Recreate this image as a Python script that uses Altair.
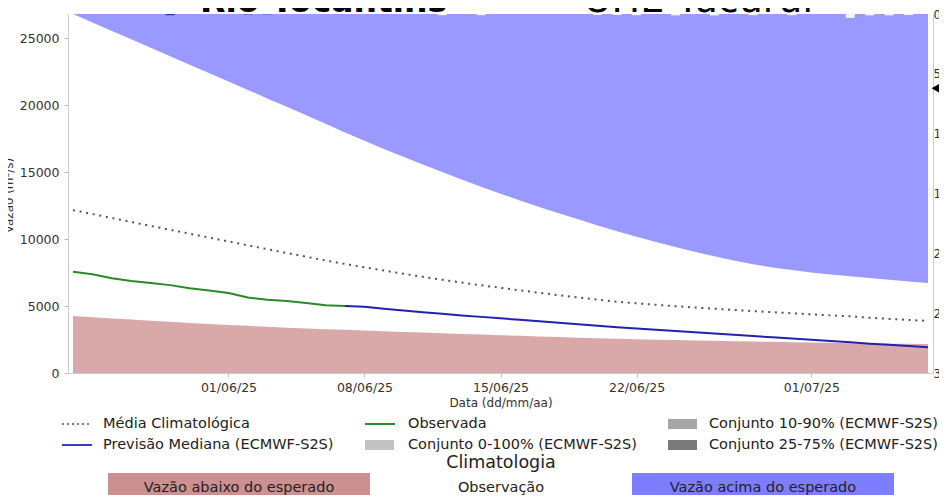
import altair as alt
import pandas as pd

FONT = "DejaVu Sans"

# ---------------- data ----------------
START = "2025-05-24"
N_DAYS = 45
Y_MAX = 26800

clim_upper = [26800, 26170, 25540, 24910, 24280, 23650, 23020, 22390, 21760, 21130,
              20500, 19870, 19240, 18600, 17960, 17340, 16730, 16140, 15560, 15000,
              14440, 13900, 13380, 12880, 12400, 11930, 11470, 11020, 10580, 10170,
              9780, 9410, 9050, 8710, 8400, 8120, 7880, 7680, 7510, 7360,
              7220, 7090, 6960, 6840, 6720]

clim_lower = [4250, 4160, 4070, 3985, 3900, 3820, 3740, 3665, 3590, 3520,
              3450, 3385, 3320, 3270, 3220, 3170, 3120, 3070, 3020, 2970,
              2920, 2870, 2820, 2775, 2730, 2685, 2640, 2595, 2550, 2520,
              2490, 2460, 2430, 2400, 2375, 2350, 2325, 2300, 2275, 2250,
              2230, 2210, 2190, 2175, 2160]

clim_mean = [12160, 11865, 11570, 11275, 10980, 10690, 10400, 10110, 9820, 9530,
             9245, 8960, 8680, 8400, 8140, 7890, 7650, 7410, 7180, 6960,
             6750, 6550, 6360, 6170, 5990, 5810, 5640, 5480, 5320, 5200,
             5090, 4990, 4890, 4800, 4710, 4620, 4540, 4460, 4380, 4300,
             4230, 4120, 4040, 3960, 3890]

observed = [7560, 7370, 7070, 6870, 6720, 6560, 6320, 6150, 5970, 5640,
            5460, 5370, 5230, 5060, 5000]            # days 0..14

forecast_start = 14
forecast = [5000, 4940, 4800, 4670, 4540, 4420, 4300, 4190, 4080, 3970,
            3860, 3750, 3640, 3530, 3420, 3320, 3230, 3140, 3040, 2950,
            2850, 2760, 2660, 2570, 2480, 2380, 2290, 2190, 2100, 2010, 1920]  # days 14..44

precip_obs_days = [5, 9, 10]
precip_obs_vals = [1.0, 0.8, 0.8]
precip_obs_colors = ["#2a2ab8", "#7a7ac8", "#7a7ac8"]

precip_fc_days = [19, 21, 27, 28, 29, 31, 33, 35, 37, 40, 41, 42, 43]
precip_fc_vals = [1.0, 1.0, 0.8, 0.8, 1.0, 1.2, 1.2, 1.0, 1.0, 3.3, 1.2, 1.2, 0.9]

marker_precip = [62]

y_ticks = [0, 5000, 10000, 15000, 20000, 25000]
p_ticks = [0, 50, 100, 150, 200, 250, 300]
x_tick_dates = [(2025, 6, 1), (2025, 6, 8), (2025, 6, 15), (2025, 6, 22), (2025, 7, 1)]

legend_labels = ["Média Climatológica", "Observada", "Conjunto 10-90% (ECMWF-S2S)",
                 "Previsão Mediana (ECMWF-S2S)", "Conjunto 0-100% (ECMWF-S2S)",
                 "Conjunto 25-75% (ECMWF-S2S)"]
clim_labels = ["Vazão abaixo do esperado", "Observação", "Vazão acima do esperado"]
title_bold = "Rio Tocantins"
title_rest = "– UHE Tucuruí"

# ---------------- tables ----------------
dates = pd.date_range(START, periods=N_DAYS, freq="D")
dstr = [d.strftime("%Y-%m-%dT00:00:00") for d in dates]

clim_df = pd.DataFrame({"date": dstr, "upper": clim_upper, "lower": clim_lower, "mean": clim_mean})
obs_df = pd.DataFrame({"date": dstr[:len(observed)], "v": observed})
fc_df = pd.DataFrame({"date": dstr[forecast_start:forecast_start + len(forecast)], "v": forecast})
pobs_df = pd.DataFrame({"date": [dstr[d] for d in precip_obs_days], "p": precip_obs_vals, "c": precip_obs_colors})
pfc_df = pd.DataFrame({"date": [dstr[d] for d in precip_fc_days], "p": precip_fc_vals})
marker_df = pd.DataFrame({"p": marker_precip})

W, H = 865, 359

xscale = alt.Scale(domain=[alt.DateTime(year=2025, month=5, date=24),
                           alt.DateTime(year=2025, month=7, date=7)])
xaxis = alt.Axis(values=[alt.DateTime(year=y, month=m, date=d) for (y, m, d) in x_tick_dates],
                 format="%d/%m/%y", title="Data (dd/mm/aa)", grid=False,
                 labelFont=FONT, labelFontSize=12.5, labelColor="#333", labelPadding=4,
                 titleFont=FONT, titleFontSize=12, titleColor="#333", titleFontWeight="normal",
                 titlePadding=4, tickSize=4, tickColor="#bbb", domainColor="#ccc")
yscale = alt.Scale(domain=[0, Y_MAX], nice=False, zero=True)
yaxis = alt.Axis(values=y_ticks, format="d", title="Vazão (m³/s)", grid=False,
                 labelFont=FONT, labelFontSize=12.5, labelColor="#333", labelPadding=5,
                 titleFont=FONT, titleFontSize=12, titleColor="#333", titleFontWeight="normal",
                 titleX=-53, titleY=181, titleAngle=270, titleAlign="center", titleBaseline="bottom",
                 tickSize=4, tickColor="#bbb", domainColor="#ccc")
pscale = alt.Scale(domain=[0, 300], reverse=True, nice=False)
paxis = alt.Axis(orient="right", values=p_ticks, title=None, grid=False, ticks=False,
                 labelFont=FONT, labelFontSize=12, labelColor="#333", labelPadding=0,
                 domainColor="#ccc")


def X():
    return alt.X("date:T", scale=xscale, axis=xaxis)


def Y(field):
    return alt.Y(f"{field}:Q", scale=yscale, axis=yaxis)


above = alt.Chart(clim_df).mark_area(color="#9999ff", opacity=1).encode(
    x=X(), y=Y("upper"), y2=alt.datum(Y_MAX))
below = alt.Chart(clim_df).mark_area(color="#d9a9a9", opacity=1).encode(
    x=X(), y=Y("lower"))
mean_line = alt.Chart(clim_df).mark_line(color="#555555", strokeWidth=2, strokeDash=[2, 4.7]).encode(
    x=X(), y=Y("mean"))
obs_line = alt.Chart(obs_df).mark_line(color="#2a8a2a", strokeWidth=2).encode(x=X(), y=Y("v"))
fc_line = alt.Chart(fc_df).mark_line(color="#2222b0", strokeWidth=2).encode(x=X(), y=Y("v"))

flow = alt.layer(above, below, mean_line, obs_line, fc_line)

pobs = alt.Chart(pobs_df).mark_bar(size=9).encode(
    x=X(), y=alt.Y("p:Q", scale=pscale, axis=paxis), color=alt.Color("c:N", scale=None))
pfc = alt.Chart(pfc_df).mark_bar(size=9, color="#f2f2f2").encode(
    x=X(), y=alt.Y("p:Q", scale=pscale, axis=paxis))
marker = alt.Chart(marker_df).mark_point(shape="triangle-left", filled=True, color="black",
                                         opacity=1, size=700).encode(
    x=alt.value(W + 10), y=alt.Y("p:Q", scale=pscale, axis=paxis))
precip = alt.layer(pobs, pfc, marker)


def txt(label, x, y, size=14.5, align="left", weight="normal", baseline="middle", color="#222"):
    return alt.Chart(alt.Data(values=[{"t": label}])).mark_text(
        align=align, baseline=baseline, font=FONT, fontSize=size, fontWeight=weight, color=color
    ).encode(x=alt.value(x), y=alt.value(y), text="t:N")


def rule(x0, x1, y, color, dash=None, width=2):
    kw = dict(color=color, strokeWidth=width)
    if dash:
        kw["strokeDash"] = dash
    return alt.Chart(alt.Data(values=[{"k": 0}])).mark_rule(**kw).encode(
        x=alt.value(x0), x2=alt.value(x1), y=alt.value(y))


def box(x0, x1, y0, y1, color):
    return alt.Chart(alt.Data(values=[{"k": 0}])).mark_rect(color=color, opacity=1).encode(
        x=alt.value(x0), x2=alt.value(x1), y=alt.value(y0), y2=alt.value(y1))


R1, R2 = 410, 431
C1S, C1T = -6, 35
C2S, C2T = 297, 340
C3S, C3T = 600, 641

deco = [
    # legend
    rule(C1S, C1S + 30, R1, "#555555", dash=[2, 3], width=1.5),
    txt(legend_labels[0], C1T, R1),
    rule(C2S, C2S + 30, R1, "#2a8a2a"),
    txt(legend_labels[1], C2T, R1),
    box(C3S, C3S + 29, R1 - 5, R1 + 5, "#a6a6a6"),
    txt(legend_labels[2], C3T, R1),
    rule(C1S, C1S + 30, R2, "#3a3ad0"),
    txt(legend_labels[3], C1T, R2),
    box(C2S, C2S + 29, R2 - 5, R2 + 5, "#c2c2c2"),
    txt(legend_labels[4], C2T, R2),
    box(C3S, C3S + 29, R2 - 5, R2 + 5, "#7a7a7a"),
    txt(legend_labels[5], C3T, R2),
    # climatology key
    txt("Climatologia", 433, 449, size=17.5, align="center"),
    box(40, 302, 459, 500, "#cd9090"),
    box(564, 826, 459, 500, "#7d7dff"),
    txt(clim_labels[0], 171, 474, align="center"),
    txt(clim_labels[1], 433, 474, align="center"),
    txt(clim_labels[2], 695, 474, align="center"),
    # title (mostly cut off at the top of the page)
    txt(title_bold, 132, -2, size=33, weight="bold", baseline="alphabetic", color="#000"),
    txt(title_rest, 745, -2, size=38, align="right", baseline="alphabetic", color="#000"),
]

chart = alt.layer(flow, precip, *deco).resolve_scale(y="independent").properties(
    width=W, height=H,
    autosize=alt.AutoSizeParams(type="none"),
    padding={"left": 60, "top": 6, "right": 6, "bottom": 122},
).configure_view(stroke=None)

chart.save("out.html", embed_options={"renderer": "svg", "actions": False})
